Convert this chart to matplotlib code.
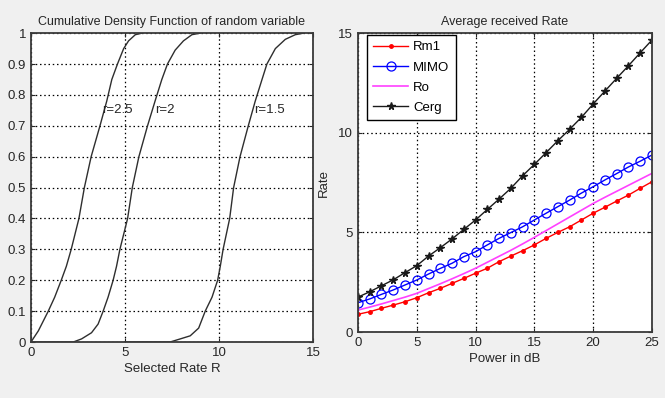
"""CDF of selected rate and average received rate vs power."""

import matplotlib

matplotlib.use("Agg")
import matplotlib.pyplot as plt

plt.rcParams["font.family"] = ["Liberation Sans", "DejaVu Sans"]

# left panel: CDF curves
cdf_r25_x = [0, 0.39, 0.92, 1.26, 1.61, 1.88, 2.14, 2.55, 2.84, 3.2, 3.67, 4.03,
             4.3, 4.6, 4.93, 5.19, 5.55, 5.9]
cdf_r25_y = [0, 0.036, 0.1, 0.145, 0.2, 0.245, 0.3, 0.4, 0.5, 0.6, 0.7, 0.78,
             0.85, 0.9, 0.95, 0.975, 0.995, 1.0]
cdf_r2_x = [0, 2.25, 2.69, 3.22, 3.57, 3.84, 4.1, 4.37, 4.55, 4.73, 5.14, 5.39, 5.74,
            6.2, 6.6, 6.96, 7.26, 7.67, 8.11, 8.56, 9.0]
cdf_r2_y = [0, 0, 0.01, 0.03, 0.058, 0.1, 0.145, 0.2, 0.245, 0.3, 0.4, 0.5, 0.6,
            0.7, 0.78, 0.85, 0.9, 0.945, 0.975, 0.995, 1.0]
cdf_r15_x = [5, 7.4, 7.94, 8.47, 8.92, 9.27, 9.63, 9.93, 10.07, 10.22, 10.57, 10.78,
             11.12, 11.56, 11.93, 12.29, 12.55, 13.0, 13.53, 14.06, 14.5]
cdf_r15_y = [0, 0, 0.01, 0.02, 0.045, 0.1, 0.145, 0.2, 0.245, 0.3, 0.4, 0.5,
             0.6, 0.7, 0.78, 0.85, 0.9, 0.95, 0.98, 0.995, 1.0]
cdf_labels = ["r=2.5", "r=2", "r=1.5"]
cdf_label_x = [3.76, 6.6, 11.86]
cdf_label_y = [0.75, 0.75, 0.75]

# right panel: average received rate
power_db = list(range(26))
rm1 = [0.89, 1.02, 1.19, 1.35, 1.52, 1.72, 1.97, 2.19, 2.44, 2.69, 2.95, 3.20, 3.53,
       3.81, 4.08, 4.37, 4.70, 5.00, 5.28, 5.62, 5.96, 6.26, 6.57, 6.87, 7.21, 7.54]
mimo = [1.47, 1.66, 1.89, 2.11, 2.36, 2.61, 2.91, 3.19, 3.45, 3.78, 4.03, 4.37, 4.70,
        4.99, 5.28, 5.62, 5.96, 6.29, 6.62, 6.97, 7.29, 7.63, 7.95, 8.28, 8.57, 8.88]
ro = [1.10, 1.25, 1.41, 1.58, 1.75, 1.94, 2.18, 2.42, 2.67, 2.93, 3.20, 3.50, 3.80,
      4.10, 4.42, 4.75, 5.09, 5.43, 5.77, 6.11, 6.45, 6.76, 7.06, 7.36, 7.66, 7.96]
cerg = [1.75, 2.02, 2.32, 2.62, 2.98, 3.33, 3.81, 4.23, 4.67, 5.15, 5.62, 6.15, 6.67,
        7.21, 7.84, 8.41, 9.00, 9.60, 10.17, 10.77, 11.44, 12.09, 12.73, 13.36, 14.01, 14.65]

BG = "#f0f0f0"
TXT = "#262626"
FS = 9.5


def style_axes(ax):
    ax.tick_params(direction="in", top=True, right=True, labelsize=FS,
                   colors=TXT, length=3, width=0.8)
    for sp in ax.spines.values():
        sp.set_color("#3a3a3a")
        sp.set_linewidth(1.3)
    ax.grid(True, color="black", linestyle=(0, (1.2, 2.2)), linewidth=0.9)
    ax.set_axisbelow(True)


fig = plt.figure(figsize=(6.65, 3.98), dpi=100, facecolor=BG)

ax1 = fig.add_axes([0.0466, 0.1407, 0.424, 0.776])
for xs, ys in [(cdf_r25_x, cdf_r25_y), (cdf_r2_x, cdf_r2_y), (cdf_r15_x, cdf_r15_y)]:
    ax1.plot(xs, ys, color="#2e2e2e", linewidth=1.0)
for lab, lx, ly in zip(cdf_labels, cdf_label_x, cdf_label_y):
    ax1.text(lx, ly, lab, fontsize=FS, color=TXT, va="center", ha="left")
ax1.set_xlim(0, 15)
ax1.set_ylim(0, 1)
ax1.set_xticks([0, 5, 10, 15])
ax1.set_yticks([i / 10 for i in range(11)])
ax1.set_yticklabels(["0", "0.1", "0.2", "0.3", "0.4", "0.5", "0.6", "0.7", "0.8", "0.9", "1"])
style_axes(ax1)
ax1.set_title("Cumulative Density Function of random variable", fontsize=9, color=TXT, pad=6)
ax1.set_xlabel("Selected Rate R", fontsize=FS, color=TXT, labelpad=3)

ax2 = fig.add_axes([0.5383, 0.1658, 0.442, 0.751])
ax2.plot(power_db, rm1, color="red", marker=".", markersize=5, linewidth=1.0, label="Rm1")
ax2.plot(power_db, mimo, color="blue", marker="o", markersize=6.5, markerfacecolor="none",
         markeredgewidth=0.9, linewidth=1.0, label="MIMO")
ax2.plot(power_db, ro, color="#ff40ff", linewidth=1.2, label="Ro")
ax2.plot(power_db, cerg, color="#1a1a1a", marker="*", markersize=5.5, linewidth=1.0, label="Cerg")
ax2.set_xlim(0, 25)
ax2.set_ylim(0, 15)
ax2.set_xticks([0, 5, 10, 15, 20, 25])
ax2.set_yticks([0, 5, 10, 15])
style_axes(ax2)
ax2.set_title("Average received Rate", fontsize=9, color=TXT, pad=6)
ax2.set_xlabel("Power in dB", fontsize=FS, color=TXT, labelpad=3)
ax2.set_ylabel("Rate", fontsize=FS, color=TXT, labelpad=6)
leg = ax2.legend(loc="upper left", bbox_to_anchor=(0.03, 0.995), fontsize=FS,
                 fancybox=False, framealpha=1, edgecolor="black", handlelength=2.6,
                 borderaxespad=0.0, labelspacing=0.6, handletextpad=0.4, borderpad=0.5)
leg.get_frame().set_linewidth(1.0)

fig.savefig("out.png", dpi=100, facecolor=BG)
